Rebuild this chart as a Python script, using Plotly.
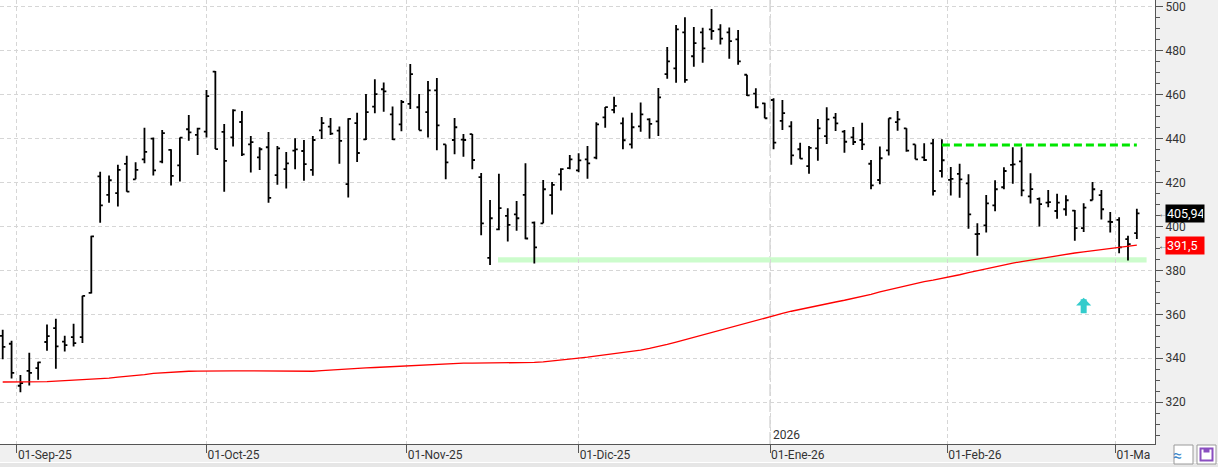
import pandas as pd
import plotly.graph_objects as go

# ---------------- data ----------------
HOLIDAYS = ["2025-09-01", "2025-11-27", "2025-12-25", "2026-01-01", "2026-01-19", "2026-02-16"]
_d = pd.bdate_range("2025-08-28", "2026-03-04")
DATES = list(_d[~_d.isin(pd.to_datetime(HOLIDAYS))])

OPEN = [350.2, 346.6, 327.5, 334.3, 335.5, 347.4, 353.7, 347.6, 349.6, 349.6,
        369.8, 422.8, 414.3, 415.1, 428.4, 421.4, 430.5, 439.9, 429.5, 434.8,
        427.8, 444.2, 441.6, 443.1, 470.4, 443.0, 440.5, 447.5, 437.3, 431.4,
        436.0, 423.3, 426.1, 434.5, 434.3, 425.7, 443.7, 445.4, 443.6, 419.2,
        447.0, 439.6, 454.5, 462.4, 451.0, 446.4, 455.7, 454.2, 452.0, 461.9,
        437.3, 439.3, 439.5, 442.0, 422.4, 385.7, 398.6, 404.8, 405.5, 414.3,
        401.7, 401.4, 414.2, 423.7, 426.5, 425.5, 430.5, 431.3, 449.6, 453.0,
        446.9, 437.3, 445.5, 448.7, 447.8, 469.3, 471.9, 488.3, 477.4, 488.3,
        489.6, 489.6, 488.3, 485.1, 469.0, 460.4, 456.0, 457.5, 448.0, 445.5,
        435.1, 427.4, 435.5, 441.1, 449.5, 443.1, 440.5, 439.3, 428.5, 421.1,
        434.6, 447.4, 444.6, 437.3, 431.4, 437.8, 425.2, 421.2, 423.9, 419.6,
        396.5, 400.5, 409.6, 417.8, 428.0, 429.6, 413.7, 412.5, 410.8, 407.0,
        407.8, 407.2, 399.2, 411.9, 414.2, 402.2, 403.0, 394.2, 396.9]
HIGH = [353.0, 348.0, 332.4, 342.5, 338.4, 355.4, 358.0, 350.2, 355.7, 368.4,
        395.8, 424.9, 423.1, 428.0, 432.1, 429.2, 444.9, 440.5, 443.9, 435.1,
        440.4, 450.7, 444.9, 462.0, 470.7, 446.6, 453.3, 452.5, 441.1, 436.0,
        443.0, 436.6, 433.9, 440.1, 439.3, 441.1, 449.8, 449.3, 445.4, 449.2,
        451.7, 460.2, 466.9, 465.5, 454.6, 457.5, 473.9, 460.2, 466.1, 467.5,
        437.3, 449.3, 442.0, 442.0, 424.3, 412.0, 423.9, 408.3, 411.6, 428.7,
        402.2, 421.1, 420.2, 426.4, 432.5, 433.3, 436.6, 447.4, 454.3, 459.0,
        449.5, 451.7, 456.4, 449.2, 463.0, 481.6, 491.6, 495.2, 490.7, 490.4,
        498.9, 492.0, 490.5, 489.3, 469.0, 462.8, 456.3, 458.3, 457.5, 447.8,
        438.0, 436.6, 448.9, 454.2, 451.6, 443.9, 445.2, 447.2, 430.2, 436.3,
        449.2, 452.5, 444.6, 437.3, 437.8, 439.8, 439.6, 427.0, 428.5, 423.7,
        401.4, 414.3, 421.0, 426.9, 436.0, 436.0, 424.2, 413.1, 416.6, 414.8,
        414.2, 407.5, 410.5, 420.2, 416.6, 406.6, 404.2, 395.7, 408.0]
LOW = [339.6, 330.8, 324.5, 327.6, 330.2, 343.4, 335.2, 343.1, 345.4, 346.9,
       369.5, 401.7, 410.8, 409.0, 415.8, 421.4, 428.7, 423.1, 428.7, 418.6,
       420.4, 439.0, 432.5, 440.5, 435.2, 415.8, 436.3, 432.0, 424.5, 425.7,
       410.8, 419.0, 417.2, 426.0, 420.8, 423.0, 439.8, 441.6, 428.5, 413.2,
       429.3, 439.3, 451.5, 452.2, 439.3, 443.3, 453.4, 443.7, 440.4, 434.6,
       421.4, 432.8, 431.7, 426.0, 396.0, 382.4, 398.3, 393.1, 398.0, 394.2,
       383.1, 401.4, 405.4, 416.3, 426.0, 424.6, 421.7, 430.5, 444.9, 451.5,
       435.1, 435.4, 443.1, 439.9, 441.1, 467.2, 465.4, 465.4, 472.6, 474.5,
       484.9, 482.8, 476.3, 473.5, 459.3, 453.7, 449.2, 435.1, 443.9, 428.1,
       430.8, 424.0, 429.9, 437.5, 443.4, 433.5, 437.0, 434.8, 416.9, 419.2,
       432.3, 443.5, 434.0, 430.5, 429.8, 414.0, 422.2, 414.0, 413.0, 398.9,
       386.7, 397.2, 406.9, 416.9, 419.4, 413.7, 410.4, 400.0, 408.7, 403.5,
       404.9, 393.5, 397.4, 411.9, 403.1, 397.2, 387.8, 384.5, 394.3]
CLOSE = [345.2, 333.4, 328.7, 333.4, 338.1, 350.1, 345.4, 346.0, 346.9, 368.4,
         395.5, 409.6, 421.0, 425.7, 415.8, 425.7, 433.9, 425.5, 442.4, 423.0,
         440.4, 442.8, 444.5, 459.3, 435.2, 429.8, 452.8, 432.8, 438.3, 435.1,
         413.0, 435.5, 428.7, 435.0, 428.3, 439.3, 447.0, 442.2, 438.9, 448.9,
         433.4, 452.0, 460.2, 461.4, 439.6, 456.6, 469.3, 443.7, 461.9, 446.0,
         429.1, 445.1, 439.3, 430.2, 401.4, 403.7, 408.3, 400.7, 403.7, 394.5,
         390.5, 416.9, 418.9, 426.1, 430.5, 430.0, 428.7, 446.4, 454.3, 454.8,
         439.2, 445.1, 451.0, 446.6, 458.7, 475.1, 489.6, 466.7, 483.4, 481.0,
         488.9, 485.4, 484.3, 475.1, 459.6, 454.2, 449.2, 438.1, 451.5, 432.3,
         430.8, 435.7, 444.6, 448.7, 446.9, 438.5, 438.4, 437.3, 418.7, 431.0,
         449.2, 448.7, 434.5, 430.5, 430.2, 416.1, 430.1, 421.6, 421.4, 405.5,
         396.6, 410.5, 416.9, 425.2, 428.2, 416.4, 417.0, 410.1, 411.0, 410.8,
         411.9, 399.2, 408.5, 416.9, 407.8, 402.0, 390.5, 391.9, 405.94]
MA = [329.2, 329.2, 329.2, 329.2, 329.2, 329.4, 329.6, 329.8, 330.0, 330.2,
      330.3, 330.5, 331.0, 331.4, 331.7, 332.1, 332.6, 333.1, 333.4, 333.6,
      333.9, 334.1, 334.2, 334.3, 334.3, 334.3, 334.3, 334.3, 334.3, 334.3,
      334.3, 334.3, 334.1, 334.0, 334.0, 334.1, 334.4, 334.7, 334.9, 335.2,
      335.5, 335.6, 335.8, 336.0, 336.3, 336.4, 336.6, 336.8, 337.1, 337.4,
      337.6, 337.8, 337.8, 337.8, 337.8, 337.8, 337.8, 337.8, 337.8, 337.8,
      338.1, 338.4, 338.9, 339.3, 339.8, 340.1, 340.5, 341.0, 341.5, 342.0,
      342.4, 343.0, 343.7, 344.5, 345.3, 346.3, 347.3, 348.4, 349.5, 350.6,
      351.7, 352.9, 354.0, 355.1, 356.3, 357.3, 358.5, 359.5, 360.4, 361.4,
      362.3, 363.1, 363.9, 364.7, 365.6, 366.4, 367.2, 368.1, 369.1, 370.2,
      371.2, 372.2, 373.1, 374.0, 374.9, 375.6, 376.3, 377.0, 378.0, 379.0,
      379.9, 380.7, 381.5, 382.5, 383.3, 384.0, 384.7, 385.4, 386.0, 386.6,
      387.3, 387.9, 388.4, 388.9, 389.4, 389.9, 390.4, 391.0, 391.5]

TICK_LABELS = ["01-Sep-25", "01-Oct-25", "01-Nov-25", "01-Dic-25", "01-Ene-26", "01-Feb-26", "01-Mar-26"]
YEAR_LABEL = "2026"
LAST_PRICE = 405.94
LAST_PRICE_TEXT = "405,94"
MA_LAST_TEXT = "391,5"
RESIST_LEVEL = 437.0
RESIST_FROM, RESIST_TO = 106, 128
SUPPORT_LOW, SUPPORT_HIGH = 383.6, 386.0
SUPPORT_FROM, SUPPORT_TO = 55.9, 129.1
SIGNAL_BAR, SIGNAL_LEVEL = 122, 367.5

# ---------------- figure ----------------
N = len(DATES)
IDX = list(range(N))

# month tick positions (first day of month on the bar index scale)
tick_pos = []
seen = set()
for i, d in enumerate(DATES):
    key = (d.year, d.month)
    if key in seen:
        continue
    seen.add(key)
    if i == 0 and d.day != 1:
        continue
    tick_pos.append(i if d.day == 1 else i - 0.4)
tick_pos = tick_pos[:len(TICK_LABELS)]
year_pos = tick_pos[TICK_LABELS.index("01-Ene-26")]

W, H = 1218, 467
PL, PR, PT, PB = 0, 63, 0, 23
PW, PH = W - PL - PR, H - PT - PB


def pxx(x):
    return (x - PL) / PW


def pxy(y):
    return (PT + PH - y) / PH


fig = go.Figure()
fig.add_trace(go.Ohlc(
    x=IDX, open=OPEN, high=HIGH, low=LOW, close=CLOSE,
    increasing=dict(line=dict(color="black", width=1.8)),
    decreasing=dict(line=dict(color="black", width=1.8)),
    tickwidth=0.3, hovertext=[d.strftime("%d-%m-%Y") for d in DATES],
))
fig.add_trace(go.Scatter(x=IDX, y=MA, mode="lines",
                         line=dict(color="#ff0000", width=1.3), hoverinfo="skip"))

shapes = [
    # support band
    dict(type="rect", xref="x", yref="y", x0=SUPPORT_FROM, x1=SUPPORT_TO,
         y0=SUPPORT_LOW, y1=SUPPORT_HIGH, fillcolor="#ccfccc", line=dict(width=0), layer="below"),
    # year separator
    dict(type="line", xref="x", yref="paper", x0=year_pos, x1=year_pos, y0=0, y1=1,
         line=dict(color="#c4c4c4", width=1, dash="12px,4px"), layer="below"),
    # resistance line
    dict(type="line", xref="x", yref="y", x0=RESIST_FROM, x1=RESIST_TO,
         y0=RESIST_LEVEL, y1=RESIST_LEVEL, line=dict(color="#00e600", width=3, dash="8px,4px")),
    # bottom strip
    dict(type="rect", xref="paper", yref="paper", x0=pxx(1150), x1=pxx(1218),
         y0=pxy(445), y1=pxy(462), fillcolor="#f0f0f0", line=dict(width=0)),
    dict(type="rect", xref="paper", yref="paper", x0=pxx(0), x1=pxx(1218),
         y0=pxy(463), y1=pxy(467), fillcolor="#e6e6e6", line=dict(width=0)),
    dict(type="line", xref="paper", yref="paper", x0=pxx(0), x1=pxx(1218),
         y0=pxy(462.5), y1=pxy(462.5), line=dict(color="white", width=1)),
    # buttons
    dict(type="rect", xref="paper", yref="paper", x0=pxx(1174), x1=pxx(1193),
         y0=pxy(445), y1=pxy(464), fillcolor="white", line=dict(color="#9a9a9a", width=1)),
    dict(type="rect", xref="paper", yref="paper", x0=pxx(1197), x1=pxx(1216),
         y0=pxy(445), y1=pxy(464), fillcolor="white", line=dict(color="#9a9a9a", width=1)),
    dict(type="rect", xref="paper", yref="paper", x0=pxx(1200.5), x1=pxx(1212.5),
         y0=pxy(448.5), y1=pxy(460.5), fillcolor="white", line=dict(color="#8a4fc0", width=2)),
    dict(type="rect", xref="paper", yref="paper", x0=pxx(1203.5), x1=pxx(1209.5),
         y0=pxy(448.5), y1=pxy(452.5), fillcolor="#8a4fc0", line=dict(width=0)),
]

annotations = [
    dict(xref="x", yref="paper", x=year_pos, y=0, text=YEAR_LABEL, showarrow=False,
         xanchor="left", yanchor="bottom", xshift=1, yshift=0,
         font=dict(size=12, color="#333")),
    dict(xref="paper", yref="y", x=1, y=LAST_PRICE, text=LAST_PRICE_TEXT, showarrow=False,
         xanchor="left", xshift=10, bgcolor="black", width=36, align="left",
         font=dict(size=12.5, color="white"), borderpad=1),
    dict(xref="paper", yref="y", x=1, y=MA[-1], text=MA_LAST_TEXT, showarrow=False,
         xanchor="left", xshift=10, bgcolor="#ff0000", width=36, align="left",
         font=dict(size=12.5, color="white"), borderpad=1),
    dict(xref="paper", yref="y", x=1, y=LAST_PRICE, text="←", showarrow=False,
         xanchor="left", xshift=1, font=dict(size=10, color="#444")),
    dict(xref="paper", yref="y", x=1, y=MA[-1], text="←", showarrow=False,
         xanchor="left", xshift=1, font=dict(size=10, color="#444")),
    dict(xref="x", yref="y", x=SIGNAL_BAR, y=SIGNAL_LEVEL, text="", showarrow=True,
         ax=0, ay=17, arrowhead=1, arrowwidth=6, arrowsize=0.42, arrowcolor="#33cccc",
         standoff=0),
    dict(xref="paper", yref="paper", x=pxx(1183.5), y=pxy(455), text="≈", showarrow=False,
         yanchor="middle", font=dict(size=16, color="#3a86c8")),
]

fig.update_layout(
    width=W, height=H,
    margin=dict(l=PL, r=PR, t=PT, b=PB),
    paper_bgcolor="#f0f0f0", plot_bgcolor="white",
    showlegend=False,
    font=dict(family="Roboto", size=12, color="#333"),
    shapes=shapes, annotations=annotations,
    xaxis=dict(
        range=[-0.305, 130.05], tickmode="array", tickvals=tick_pos, ticktext=TICK_LABELS,
        ticks="outside", ticklen=8, tickcolor="#555", showline=True, linecolor="#555",
        showgrid=True, gridcolor="#d6d6d6", griddash="4px,3px", zeroline=False,
        ticklabelposition="outside right", rangeslider=dict(visible=False),
        tickfont=dict(size=12, color="#333"), fixedrange=True,
    ),
    yaxis=dict(
        side="right", range=[301, 503], tick0=300, dtick=20,
        ticks="outside", ticklen=7, tickcolor="#555", showline=True, linecolor="#555",
        showgrid=True, gridcolor="#d6d6d6", griddash="4px,3px", zeroline=False,
        ticklabeloverflow="allow",
        minor=dict(tick0=300, dtick=5, ticks="outside", ticklen=4, tickcolor="#555", showgrid=False),
        tickfont=dict(size=12, color="#333"), fixedrange=True,
    ),
)

fig.write_html("out.html")
